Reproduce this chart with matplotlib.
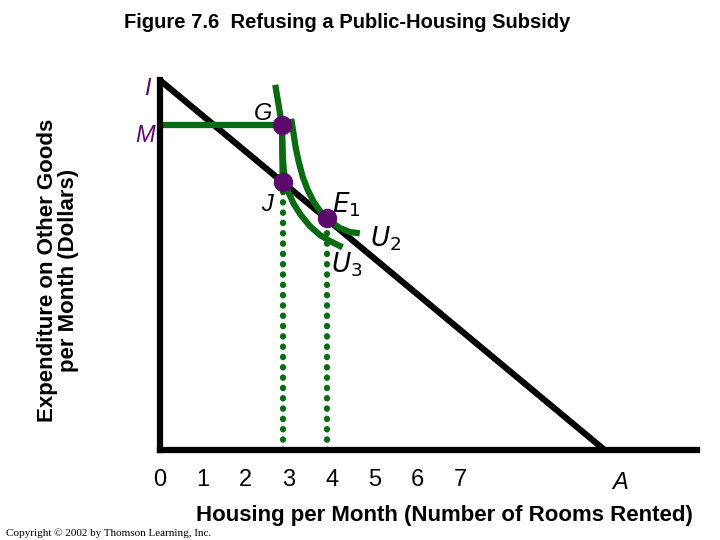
import matplotlib
matplotlib.use("Agg")
import matplotlib.pyplot as plt
import numpy as np

plt.rcParams['font.family'] = ['Liberation Sans', 'DejaVu Sans']

# escala: 43 px por unidade
def px(xs, ys):
    return (np.array(xs) - 160) / 43.0, (450 - np.array(ys)) / 43.0

# reta orçamentária
budget_x = [0, 10.35]
budget_y = [8.6, 0]

# pontos
G = (2.84, 7.56)
J = (2.86, 6.23)
E1 = (3.90, 5.40)

# curvas de indiferença (lidas em pixels)
u3_x, u3_y = px([276, 278, 280, 282, 282.5, 283, 284, 286, 289, 294, 301, 310, 320, 330, 340],
                [88, 100, 112, 125, 140, 155, 170, 183, 193, 204, 215, 226, 235, 241, 246])
u2_x, u2_y = px([292, 294, 296, 299, 303, 308, 314, 321, 330, 340, 350, 357],
                [122, 135, 148, 162, 177, 190, 202, 212, 221, 228, 232, 233])

ticks = [0, 1, 2, 3, 4, 5, 6, 7]

fig = plt.figure(figsize=(7.2, 5.4), dpi=100)
ax = fig.add_axes([0.222, 0.1667, 0.746, 0.685])
ax.set_xlim(0, 12.5)
ax.set_ylim(0, 8.6)
for s in ['top', 'right']:
    ax.spines[s].set_visible(False)
ax.spines['left'].set_linewidth(4.5)
ax.spines['bottom'].set_linewidth(4.5)
ax.set_yticks([])
ax.set_xticks(ticks)
ax.set_xticklabels([str(t) for t in ticks], fontsize=17)
ax.tick_params(axis='x', length=0, pad=14)

green = '#0b6b12'
purple = '#5c0a6b'

ax.plot(budget_x, budget_y, color='black', lw=4.5, solid_capstyle='butt', clip_on=False)
ax.plot([0, G[0]], [G[1], G[1]], color=green, lw=4.5)
ax.plot([G[0], J[0]], [G[1], J[1]], color=green, lw=4.5)
ax.plot(u3_x, u3_y, color=green, lw=4.5, solid_joinstyle='round')
ax.plot(u2_x, u2_y, color=green, lw=4.5, solid_joinstyle='round')

# linhas pontilhadas
ax.plot([J[0], J[0]], [0, J[1] - 0.2], color=green, lw=4.5, ls=(0, (0.05, 1.6)),
        dash_capstyle='round')
ax.plot([E1[0] - 0.02, E1[0] - 0.02], [0, E1[1] - 0.3], color=green, lw=4.5,
        ls=(0, (0.05, 1.6)), dash_capstyle='round')

for p in [G, J, E1]:
    ax.plot(*p, 'o', color=purple, ms=13, zorder=5)

ax.text(-0.28, 8.4, 'I', color=purple, fontsize=17, style='italic', ha='center', va='center', clip_on=False)
ax.text(-0.35, 7.3, 'M', color=purple, fontsize=17, style='italic', ha='center', va='center', clip_on=False)
ax.text(2.4, 7.83, 'G', fontsize=17, style='italic', ha='center', va='center')
ax.text(2.5, 5.7, 'J', fontsize=17, style='italic', ha='center', va='center')
ax.text(4.35, 5.7, r'$E_1$', fontsize=19, ha='center', va='center')
ax.text(5.25, 4.9, r'$U_2$', fontsize=19, ha='center', va='center')
ax.text(4.35, 4.3, r'$U_3$', fontsize=19, ha='center', va='center')
ax.text(10.7, -0.75, 'A', fontsize=17, style='italic', ha='center', va='center', clip_on=False)

ax.set_xlabel('Housing per Month (Number of Rooms Rented)', fontsize=16,
              fontweight='bold', labelpad=10, x=0.53)
fig.text(0.08, 0.5, 'Expenditure on Other Goods\nper Month (Dollars)', rotation=90,
         fontsize=16, fontweight='bold', ha='center', va='center', linespacing=1.0)
fig.text(0.482, 0.958, 'Figure 7.6  Refusing a Public-Housing Subsidy', fontsize=14.5,
         fontweight='bold', ha='center', va='center')
fig.text(0.008, 0.013, 'Copyright © 2002 by Thomson Learning, Inc.', fontsize=8,
         family='Liberation Serif', ha='left', va='center')

fig.savefig('out.png', dpi=100)
